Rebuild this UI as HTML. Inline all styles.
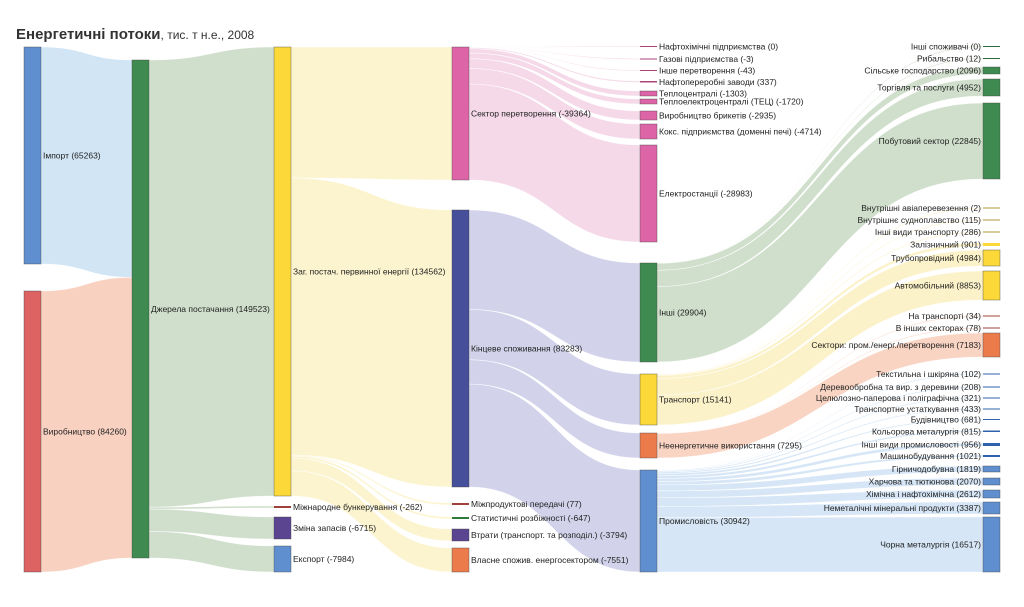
<!DOCTYPE html>
<html><head><meta charset="utf-8">
<style>
html,body{margin:0;padding:0;background:#fff;}
svg{display:block;font-family:"Liberation Sans",sans-serif;}
text{font-size:8.5px;fill:#222;}
</style></head><body>
<svg id="s" width="1024" height="607" xmlns="http://www.w3.org/2000/svg">
<text x="16" y="39" style="font-size:15px;font-weight:bold;fill:#333">Енергетичні потоки<tspan style="font-size:12px;font-weight:normal">, тис. т н.е., 2008</tspan></text>
<g id="L"></g><g id="N"></g>
</svg>
<script>
var N={};
var C0=24,C1=132,C2=274,C3=452,C4=640,C5=983,W=17;
function n(id,x,y0,y1,c,label,side){N[id]={x:x,y0:y0,y1:y1,c:c,l:label,s:side||'r',o:y0,i:y0,so:0,si:0};}
var BL='#5f8fcf',RD='#dd6363',GR='#3e8a50',YE='#fcd939',PU='#5b4591',PK='#dd64a6',NV='#454f9a',OR='#ec7b4b',DR='#a0403a',OL='#b09a3a',DB='#2f62ad';
n('imp',C0,47,264,BL,'Імпорт (65263)');
n('vyr',C0,291,572,RD,'Виробництво (84260)');
n('dz',C1,60,558,GR,'Джерела постачання (149523)');
n('zag',C2,47,496,YE,'Заг. постач. первинної енергії (134562)');
n('mb',C2,506,508,DR,'Міжнародне бункерування (-262)');
n('zz',C2,517,539,PU,'Зміна запасів (-6715)');
n('exp',C2,546,572,BL,'Експорт (-7984)');
n('sp',C3,47,180,PK,'Сектор перетворення (-39364)');
n('ks',C3,210,487,NV,'Кінцеве споживання (83283)');
n('mp',C3,503,505,DR,'Міжпродуктові передачі (77)');
n('st',C3,517,519,'#2f7a3a','Статистичні розбіжності (-647)');
n('vt',C3,529,541,PU,'Втрати (транспорт. та розподіл.) (-3794)');
n('vl',C3,548,572,OR,'Власне спожив. енергосектором (-7551)');
var pk=[['Нафтохімічні підприємства (0)',46,47,60],['Газові підприємства (-3)',58.5,59.5,60],['Інше перетворення (-43)',70,71,80],['Нафтопереробні заводи (337)',81,82.5,337],['Теплоцентралі (-1303)',91,96,1303],['Теплоелектроцентралі (ТЕЦ) (-1720)',99,104,1720],['Виробництво брикетів (-2935)',111,120,2935],['Кокс. підприємства (доменні печі) (-4714)',124,139,4714],['Електростанції (-28983)',145,242,28983]];
pk.forEach(function(a,i){n('pk'+i,C4,a[1],a[2],i<4?'#a8457a':PK,a[0]);});
n('in',C4,263,362,GR,'Інші (29904)');
n('tr',C4,374,425,YE,'Транспорт (15141)');
n('ne',C4,433,458,OR,'Неенергетичне використання (7295)');
n('pr',C4,470,572,'#5f8fcf','Промисловість (30942)');
var g5=[['Інші споживачі (0)',46,47,60],['Рибальство (12)',58,59,60],['Сільське господарство (2096)',67,74,2096],['Торгівля та послуги (4952)',79,96,4952],['Побутовий сектор (22845)',103,179,22845]];
var t5=[['Внутрішні авіаперевезення (2)',207.5,208.5,40],['Внутрішнє судноплавство (115)',219.5,220.5,115],['Інші види транспорту (286)',231.5,232.5,286],['Залізничний (901)',243,246,901],['Трубопровідний (4984)',250,266,4984],['Автомобільний (8853)',271,300,8853]];
var o5=[['На транспорті (34)',315.5,316.5,60],['В інших секторах (78)',327.5,328.5,78],['Сектори: пром./енерг./перетворення (7183)',333,357,7183]];
var b5=[['Текстильна і шкіряна (102)',373.5,374.5,102],['Деревообробна та вир. з деревини (208)',386.5,387.5,208],['Целюлозно-паперова і поліграфічна (321)',397.5,398.5,321],['Транспортне устаткування (433)',408.5,409.5,433],['Будівництво (681)',419,420,681],['Кольорова металургія (815)',430.5,432,815],['Інші види промисловості (956)',443,446,956],['Машинобудування (1021)',455,457,1021],['Гірничодобувна (1819)',466,472,1819],['Харчова та тютюнова (2070)',478,485,2070],['Хімічна і нафтохімічна (2612)',490,498,2612],['Неметалічні мінеральні продукти (3387)',502,514,3387],['Чорна металургія (16517)',517,572,16517]];
g5.forEach(function(a,i){n('g'+i,C5,a[1],a[2],i<2?'#2f6a3a':GR,a[0],'l');});
t5.forEach(function(a,i){n('t'+i,C5,a[1],a[2],i<3?OL:YE,a[0],'l');});
o5.forEach(function(a,i){n('o'+i,C5,a[1],a[2],i<2?DR:OR,a[0],'l');});
b5.forEach(function(a,i){n('b'+i,C5,a[1],a[2],i<8?DB:'#5f8fcf',a[0],'l');});
var links=[['imp','dz',65263,'#c9e0f3'],['vyr','dz',84260,'#f8c9b6'],
['dz','zag',134562,'#c8d9c3'],['dz','mb',600,'#c8d9c3'],['dz','zz',6715,'#c8d9c3'],['dz','exp',7984,'#c8d9c3'],
['zag','sp',39364,'#fcf2c6'],['zag','ks',83283,'#fcf2c6'],['zag','mp',300,'#fcf2c6'],['zag','st',647,'#fcf2c6'],['zag','vt',3794,'#fcf2c6'],['zag','vl',7551,'#fcf2c6'],
['ks','in',29904,'#cacbe8'],['ks','tr',15141,'#cacbe8'],['ks','ne',7295,'#cacbe8'],['ks','pr',30942,'#cacbe8']];
pk.forEach(function(a,i){links.push(['sp','pk'+i,a[3],'#f3d2e4']);});
g5.forEach(function(a,i){links.push(['in','g'+i,a[3],'#c8d9c3']);});
t5.forEach(function(a,i){links.push(['tr','t'+i,a[3],'#fcf0c0']);});
o5.forEach(function(a,i){links.push(['ne','o'+i,a[3],'#f8cdb8']);});
b5.forEach(function(a,i){links.push(['pr','b'+i,a[3],'#cfe2f5']);});
links.forEach(function(l){N[l[0]].so+=l[2];N[l[1]].si+=l[2];});
var ns='http://www.w3.org/2000/svg',L=document.getElementById('L'),NG=document.getElementById('N');
links.forEach(function(l){var s=N[l[0]],t=N[l[1]];
var hs=l[2]*(s.y1-s.y0)/s.so, ht=l[2]*(t.y1-t.y0)/t.si;
var x0=s.x+W,x1=t.x,m=(x0+x1)/2,a=s.o,b=s.o+hs,c=t.i,d=t.i+ht;s.o+=hs;t.i+=ht;
var p=document.createElementNS(ns,'path');
p.setAttribute('d','M'+x0+','+a+'C'+m+','+a+' '+m+','+c+' '+x1+','+c+'L'+x1+','+d+'C'+m+','+d+' '+m+','+b+' '+x0+','+b+'Z');
p.setAttribute('fill',l[3]);p.setAttribute('fill-opacity','0.85');p.setAttribute('stroke','#fff');p.setAttribute('stroke-width','0.4');L.appendChild(p);});
for(var id in N){var o=N[id];var r=document.createElementNS(ns,'rect');
r.setAttribute('x',o.x);r.setAttribute('y',o.y0);r.setAttribute('width',W);r.setAttribute('height',Math.max(1,o.y1-o.y0));
r.setAttribute('fill',o.c);if(o.y1-o.y0>3){r.setAttribute('stroke','#444');r.setAttribute('stroke-opacity','0.5');r.setAttribute('stroke-width','0.8');}
NG.appendChild(r);
var t=document.createElementNS(ns,'text');var cy=(o.y0+o.y1)/2+3;
if(o.s=='r'){t.setAttribute('x',o.x+W+2);}else{t.setAttribute('x',o.x-2);t.setAttribute('text-anchor','end');}
t.setAttribute('y',cy);t.textContent=o.l;NG.appendChild(t);}
</script>
</body></html>
